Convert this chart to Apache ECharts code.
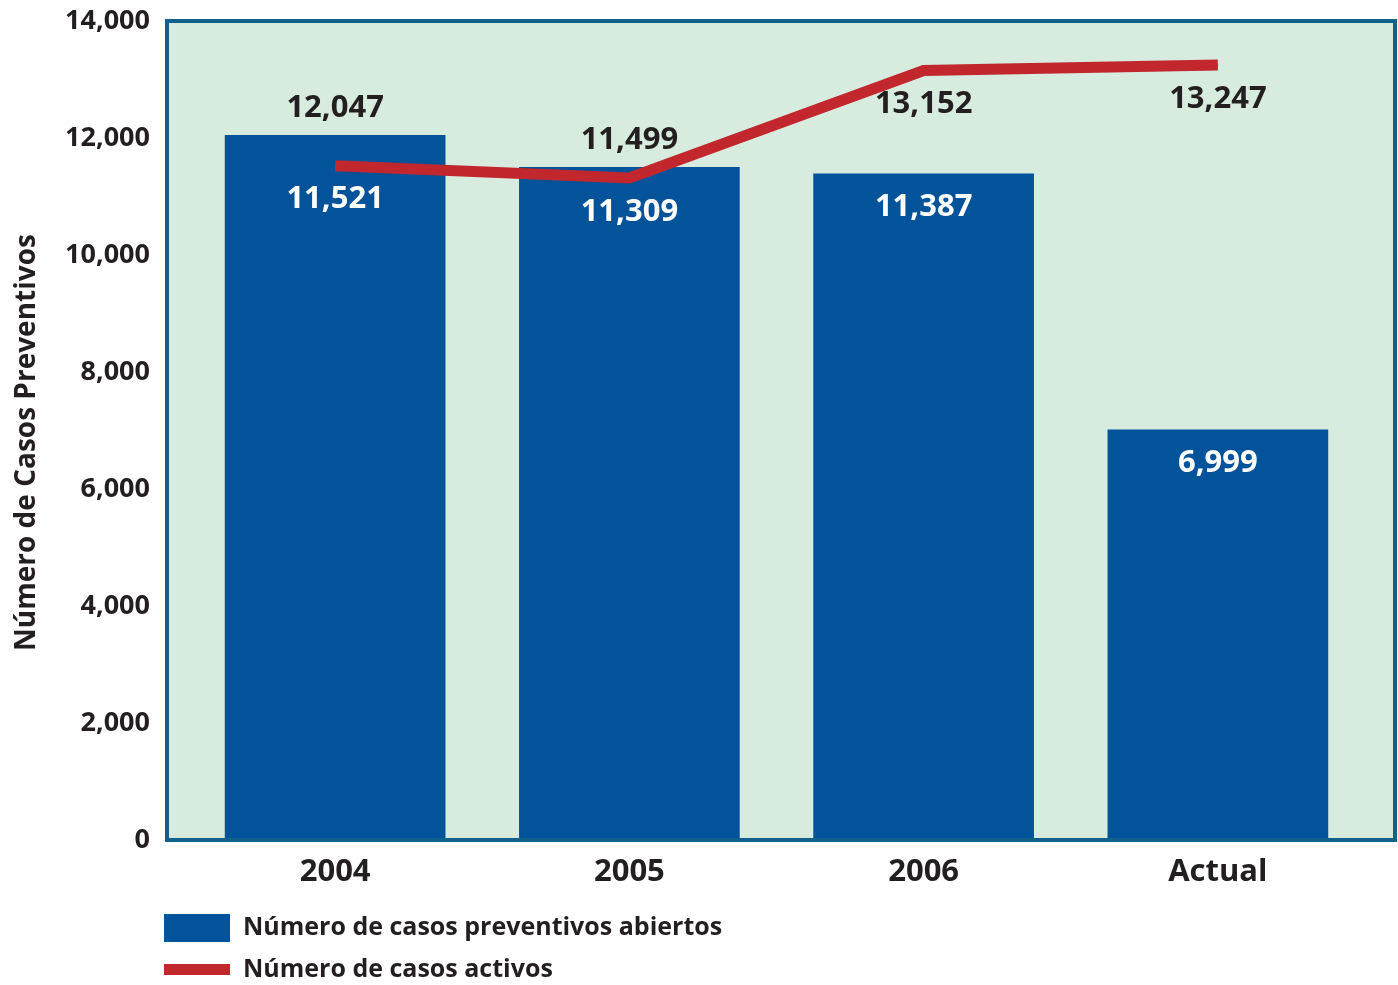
<!DOCTYPE html>
<html>
<head>
<meta charset="utf-8">
<title>Número de Casos Preventivos</title>
<script src="https://cdn.jsdelivr.net/npm/echarts@6/dist/echarts.min.js"></script>
<style>
  html, body { margin: 0; padding: 0; background: #fff; }
  #chart { width: 1398px; height: 985px; }
</style>
</head>
<body>
<div id="chart"></div>
<script>
// datos
var categories = ['2004', '2005', '2006', 'Actual'];
var casosAbiertos = [12047, 11499, 11387, 6999];
var casosActivos = [11521, 11309, 13152, 13247];
var yTicks = { min: 0, max: 14000, interval: 2000 };

var nombreBarras = 'Número de casos preventivos abiertos';
var nombreLinea = 'Número de casos activos';

(function() {
    var myChart = echarts.init(document.getElementById('chart'));

    var fuente = '"Open Sans", "Noto Sans", sans-serif';
    var oscuro = '#231f20';
    var azul = '#03539b';
    var rojo = '#c1272d';

    function miles(v) {
        return String(v).replace(/\B(?=(\d{3})+(?!\d))/g, ',');
    }

    // etiqueta de la barra: arriba si la barra queda por encima de la linea, si no dentro
    var barData = casosAbiertos.map(function(v, i) {
        var arriba = v > casosActivos[i];
        return {
            value: v,
            label: {
                position: arriba ? 'top' : 'insideTop',
                distance: arriba ? 11 : 18,
                color: arriba ? oscuro : '#fff'
            }
        };
    });

    // etiqueta de la linea: blanca si el punto cae dentro de la barra
    var lineData = casosActivos.map(function(v, i) {
        return {
            value: v,
            label: { color: v < casosAbiertos[i] ? '#fff' : oscuro }
        };
    });

    var legendText = { color: oscuro, fontSize: 25, fontWeight: 'bold', fontFamily: fuente, padding: [0, 0, 0, 8] };

    var option = {
        animation: false,
        textStyle: { fontFamily: fuente },
        grid: [{
            // marco con fondo verde
            show: true,
            left: 167, right: 3, top: 21, bottom: 145,
            backgroundColor: '#d7ebde',
            borderColor: '#10628a',
            borderWidth: 4
        }, {
            left: 188, right: 33, top: 21, bottom: 147
        }],
        legend: [{
            data: [nombreBarras],
            orient: 'vertical',
            left: 164, top: 914,
            padding: 0,
            itemWidth: 66, itemHeight: 28,
            icon: 'rect',
            textStyle: legendText
        }, {
            data: [{ name: nombreLinea, icon: 'rect' }],
            orient: 'vertical',
            left: 164, top: 957,
            padding: 0,
            itemWidth: 66, itemHeight: 11,
            textStyle: legendText
        }],
        xAxis: [{
            gridIndex: 0, type: 'value', show: false, min: 0, max: 1
        }, {
            gridIndex: 1,
            type: 'category',
            data: categories,
            axisLine: { show: false },
            axisTick: { show: false },
            axisLabel: {
                color: oscuro, fontSize: 31, fontWeight: 'bold', margin: 19
            }
        }],
        yAxis: [{
            gridIndex: 0,
            type: 'value',
            min: yTicks.min, max: yTicks.max, interval: yTicks.interval,
            name: 'Número de Casos Preventivos',
            nameLocation: 'middle',
            nameGap: 126,
            nameTextStyle: { color: oscuro, fontSize: 28, fontWeight: 'bold', padding: [0, 24, 0, 0] },
            axisLine: { show: false },
            axisTick: { show: false },
            splitLine: { show: false },
            axisLabel: {
                color: oscuro, fontSize: 27, fontWeight: 'bold', margin: 17,
                formatter: function(v) { return miles(v); }
            }
        }, {
            gridIndex: 1,
            type: 'value',
            min: yTicks.min, max: yTicks.max, interval: yTicks.interval,
            show: false,
            splitLine: { show: false }
        }],
        series: [{
            name: nombreBarras,
            type: 'bar',
            xAxisIndex: 1, yAxisIndex: 1,
            barWidth: '75%',
            itemStyle: { color: azul },
            label: {
                show: true,
                fontSize: 31, fontWeight: 'bold', fontFamily: fuente,
                formatter: function(p) { return miles(p.value); }
            },
            data: barData
        }, {
            name: nombreLinea,
            type: 'line',
            xAxisIndex: 1, yAxisIndex: 1,
            symbol: 'circle',
            symbolSize: 1,
            itemStyle: { color: rojo },
            lineStyle: { color: rojo, width: 11, cap: 'butt', join: 'miter' },
            label: {
                show: true,
                position: 'bottom',
                distance: 18,
                fontSize: 31, fontWeight: 'bold', fontFamily: fuente,
                formatter: function(p) { return miles(p.value); }
            },
            data: lineData
        }]
    };

    myChart.setOption(option);

    window.addEventListener('resize', function() {
        myChart.resize();
    });
})();
</script>
</body>
</html>
